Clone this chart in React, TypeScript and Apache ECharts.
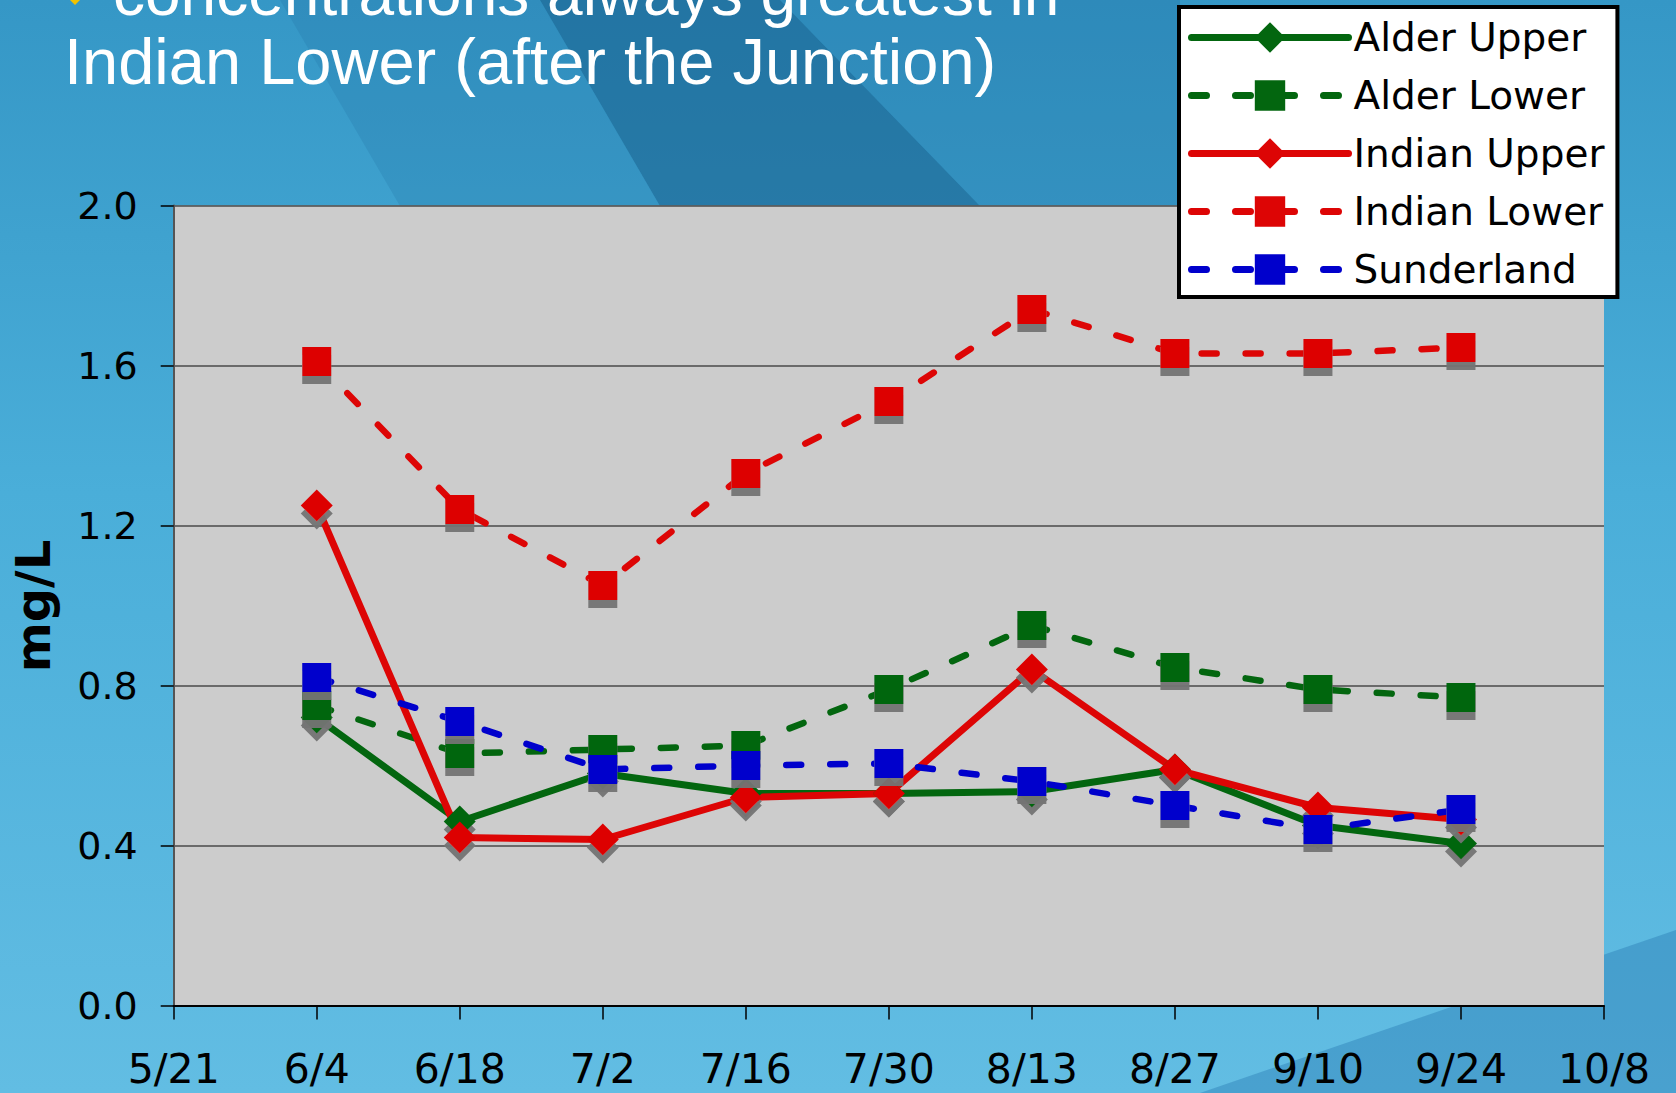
import React, { useEffect, useRef } from "react";
import * as echarts from "echarts";

const dates = ["5/21", "6/4", "6/18", "7/2", "7/16", "7/30", "8/13", "8/27", "9/10", "9/24", "10/8"];
const alderUpper = [null, 0.72, 0.46, 0.58, 0.53, 0.53, 0.535, 0.59, 0.45, 0.405, null];
const alderLower = [null, 0.75, 0.63, 0.64, 0.65, 0.79, 0.95, 0.845, 0.79, 0.77, null];
const indianUpper = [null, 1.25, 0.42, 0.415, 0.52, 0.53, 0.84, 0.59, 0.495, 0.465, null];
const indianLower = [null, 1.61, 1.24, 1.05, 1.33, 1.51, 1.74, 1.63, 1.63, 1.645, null];
const sunderland = [null, 0.82, 0.71, 0.59, 0.6, 0.605, 0.56, 0.5, 0.44, 0.49, null];

const titleLine1 = "concentrations always greatest in";
const titleLine2 = "Indian Lower (after the Junction)";
const yName = "mg/L";

const GREEN = "#03660f";
const RED = "#dd0505";
const BLUE = "#0000cc";
const DASH = [15, 29];

function mk(name: string, data: (number | null)[], color: string, symbol: string, dashed: boolean) {
  return {
    name,
    type: "line",
    data,
    symbol,
    symbolSize: symbol === "diamond" ? 32 : 29,
    showSymbol: true,
    lineStyle: { color, width: dashed ? 6.5 : 7, type: dashed ? DASH : "solid", cap: "round", join: "round" },
    itemStyle: {
      color,
      shadowColor: "rgba(115,115,115,0.95)",
      shadowOffsetX: 0,
      shadowOffsetY: 8,
      shadowBlur: 0,
    },
    emphasis: { disabled: true },
  };
}

export default function App() {
  const ref = useRef<HTMLDivElement>(null);
  useEffect(() => {
    if (!ref.current) return;
    const chart = echarts.init(ref.current, undefined, { renderer: "svg" });
    const option: any = {
      animation: false,
      backgroundColor: new echarts.graphic.LinearGradient(0, 0, 0, 1, [
        { offset: 0, color: "#3597c6" },
        { offset: 0.45, color: "#4aaed9" },
        { offset: 1, color: "#62bde3" },
      ]),
      graphic: [
        {
          type: "polygon",
          z: -10,
          shape: { points: [[540, 0], [780, 0], [980, 206], [660, 206]] },
          style: { fill: "rgba(20,90,135,0.55)" },
        },
        {
          type: "polygon",
          z: -10,
          shape: { points: [[780, 0], [1180, 0], [1180, 206], [980, 206]] },
          style: { fill: "rgba(30,110,160,0.3)" },
        },
        {
          type: "polygon",
          z: -10,
          shape: { points: [[280, 0], [540, 0], [660, 206], [400, 206]] },
          style: { fill: "rgba(30,110,160,0.22)" },
        },
        {
          type: "polygon",
          z: -10,
          shape: { points: [[1200, 1093], [1676, 930], [1676, 1093]] },
          style: { fill: "rgba(30,110,170,0.35)" },
        },
        {
          type: "polygon",
          z: 50,
          shape: { points: [[70, 0], [80, 0], [75, 5]] },
          style: { fill: "#f2c200" },
        },
        {
          type: "text",
          z: 50,
          x: 113,
          y: -7,
          style: {
            text: titleLine1,
            fontFamily: "Liberation Sans",
            fontSize: 64,
            fill: "#ffffff",
            align: "left",
            verticalAlign: "middle",
          },
        },
        {
          type: "text",
          z: 50,
          x: 64,
          y: 61,
          style: {
            text: titleLine2,
            fontFamily: "Liberation Sans",
            fontSize: 65,
            fill: "#ffffff",
            align: "left",
            verticalAlign: "middle",
          },
        },
        {
          type: "text",
          z: 50,
          x: 33,
          y: 606,
          rotation: Math.PI / 2,
          style: {
            text: yName,
            fontFamily: "DejaVu Sans",
            fontWeight: "bold",
            fontSize: 48,
            fill: "#000000",
            align: "center",
            verticalAlign: "middle",
          },
        },
      ],
      grid: {
        left: 173.7,
        right: 72,
        top: 205.5,
        bottom: 87.5,
        show: true,
        backgroundColor: "#cccccc",
        borderWidth: 0,
      },
      legend: {
        orient: "vertical",
        left: 1179,
        top: 7,
        itemWidth: 157,
        itemHeight: 38,
        itemGap: 19,
        padding: [11, 13, 8, 9],
        backgroundColor: "#ffffff",
        borderColor: "#000000",
        borderWidth: 4,
        borderRadius: 0,
        lineStyle: { width: 7, cap: "round" },
        data: ["Alder Upper", "Alder Lower", "Indian Upper", "Indian Lower", "Sunderland"],
        textStyle: { fontFamily: "DejaVu Sans", fontSize: 39, color: "#000000" },
      },
      xAxis: {
        type: "category",
        data: dates,
        boundaryGap: false,
        axisLine: { show: true, lineStyle: { color: "#000000", width: 2 } },
        axisTick: { show: true, length: 14, interval: 0, lineStyle: { color: "#000000", width: 1.5 } },
        axisLabel: {
          interval: 0,
          margin: 44,
          lineHeight: 38,
          fontFamily: "DejaVu Sans",
          fontSize: 41,
          color: "#000000",
          showMinLabel: true,
          showMaxLabel: true,
        },
        splitLine: { show: false },
      },
      yAxis: {
        type: "value",
        min: 0,
        max: 2,
        interval: 0.4,
        axisLine: { show: true, lineStyle: { color: "#555555", width: 2 } },
        axisTick: { show: true, length: 13, lineStyle: { color: "#000000", width: 1.5 } },
        axisLabel: {
          margin: 36,
          fontFamily: "DejaVu Sans",
          fontSize: 38,
          color: "#000000",
          formatter: (v: number) => v.toFixed(1),
        },
        splitLine: { show: true, lineStyle: { color: "#4a4a4a", width: 1.5 } },
      },
      series: [
        mk("Alder Upper", alderUpper, GREEN, "diamond", false),
        mk("Alder Lower", alderLower, GREEN, "rect", true),
        mk("Indian Upper", indianUpper, RED, "diamond", false),
        mk("Indian Lower", indianLower, RED, "rect", true),
        mk("Sunderland", sunderland, BLUE, "rect", true),
      ],
    };
    chart.setOption(option);
    return () => chart.dispose();
  }, []);
  return (
    <div
      ref={ref}
      style={{ position: "fixed", left: 0, top: 0, width: 1676, height: 1093 }}
    />
  );
}
